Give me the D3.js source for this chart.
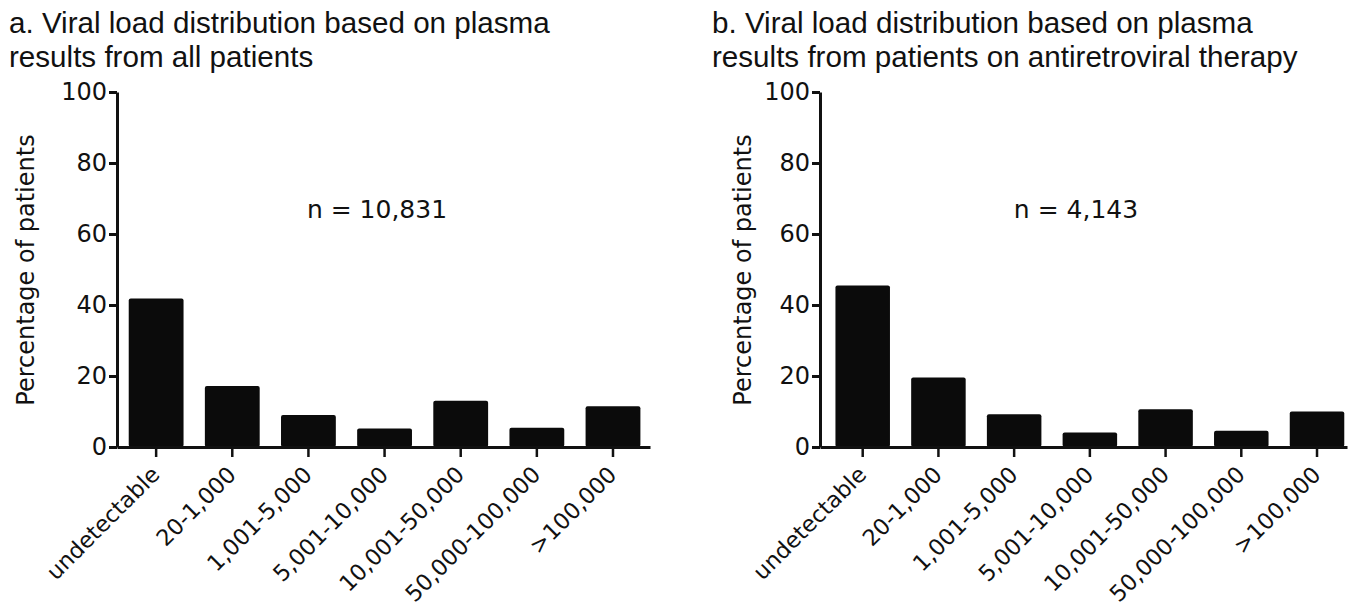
<!DOCTYPE html>
<meta charset="utf-8">
<style>
body { margin: 0; background: #fff; }
.title { font: 29.6px "Liberation Sans", Arial, sans-serif; fill: #111; }
.axis text { font: 24px "DejaVu Sans", sans-serif; fill: #111; }
.axis .xlab { font-size: 22.5px; }
.axis path, .axis line { stroke: #111; }
.ylab { font: 24px "DejaVu Sans", sans-serif; fill: #111; }
.nlab { font: 25px "DejaVu Sans", sans-serif; fill: #111; }
</style>
<body>
<script src="https://d3js.org/d3.v7.min.js"></script>
<script>
var categories = ["undetectable", "20-1,000", "1,001-5,000", "5,001-10,000",
                  "10,001-50,000", "50,000-100,000", ">100,000"];
var allPatients = [41.8, 17.2, 9.0, 5.2, 13.0, 5.4, 11.5];
var artPatients = [45.5, 19.6, 9.2, 4.1, 10.6, 4.6, 10.0];
var yTicks = [0, 20, 40, 60, 80, 100];

var width = 1361, height = 609;

var svg = d3.select("body").append("svg")
    .attr("width", width)
    .attr("height", height);

var y = d3.scaleLinear()
    .domain([0, 100])
    .range([447, 92]);

function panel(opts) {
  var g = svg.append("g");

  var x = d3.scaleBand()
      .domain(categories)
      .range([opts.x0, opts.x1])
      .paddingInner(0.28)
      .paddingOuter(opts.pad)
      .align(opts.align);

  // title (two lines)
  var t = g.append("text").attr("class", "title");
  opts.title.forEach(function(line, i) {
    t.append("tspan").attr("x", opts.tx).attr("y", 33 + i * 34).text(line);
  });

  // bars
  g.selectAll(".bar")
      .data(opts.values)
    .enter().append("rect")
      .attr("class", "bar")
      .attr("x", function(d, i) { return x(categories[i]); })
      .attr("y", function(d) { return y(d); })
      .attr("width", x.bandwidth())
      .attr("height", function(d) { return y(0) - y(d); })
      .attr("rx", 2)
      .style("fill", "#0b0b0b");

  // y axis
  var ya = g.append("g")
      .attr("class", "axis")
      .attr("transform", "translate(" + opts.x0 + ",0)")
      .call(d3.axisLeft(y).tickValues(yTicks).tickSize(8).tickSizeOuter(0).tickPadding(2));
  ya.select(".domain").attr("stroke-width", 3);
  ya.selectAll(".tick line").attr("stroke-width", 3);

  // x axis
  var xa = g.append("g")
      .attr("class", "axis")
      .attr("transform", "translate(0," + y(0) + ")")
      .call(d3.axisBottom(x).tickSize(10).tickSizeOuter(0));
  xa.select(".domain").attr("stroke-width", 3);
  xa.selectAll(".tick line").attr("stroke-width", 2.5);
  xa.selectAll(".tick text")
      .attr("class", "xlab")
      .attr("text-anchor", "end")
      .attr("x", 5)
      .attr("y", 29)
      .attr("dy", 0)
      .attr("transform", "rotate(-45 5 29)");

  // y axis title
  g.append("text")
      .attr("class", "ylab")
      .attr("text-anchor", "middle")
      .attr("transform", "translate(" + opts.lx + ",270) rotate(-90)")
      .attr("dy", "0.35em")
      .text("Percentage of patients");

  // sample size
  g.append("text")
      .attr("class", "nlab")
      .attr("text-anchor", "middle")
      .attr("x", opts.nx)
      .attr("y", 218)
      .text(opts.n);
}

panel({
  title: ["a. Viral load distribution based on plasma", "results from all patients"],
  tx: 9, x0: 117, x1: 650, pad: 0.14, align: 0.55,
  values: allPatients, lx: 26, nx: 377, n: "n = 10,831"
});

panel({
  title: ["b. Viral load distribution based on plasma", "results from patients on antiretroviral therapy"],
  tx: 712, x0: 820, x1: 1347, pad: 0.12, align: 0.85,
  values: artPatients, lx: 743, nx: 1076, n: "n = 4,143"
});
</script>
